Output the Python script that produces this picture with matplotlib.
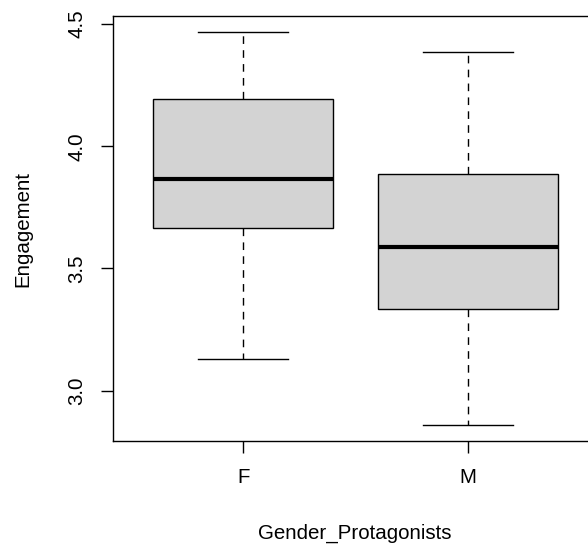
import matplotlib
matplotlib.use("Agg")
import matplotlib.pyplot as plt

plt.rcParams['font.family'] = ['Liberation Sans', 'DejaVu Sans']

# five-number summaries per group
groups = ['F', 'M']
whis_lo = [3.130, 2.858]
q1 = [3.665, 3.334]
medians = [3.865, 3.589]
q3 = [4.193, 3.885]
whis_hi = [4.469, 4.388]

yticks = [3.0, 3.5, 4.0, 4.5]

stats = []
for i, g in enumerate(groups):
    stats.append(dict(label=g, whislo=whis_lo[i], q1=q1[i], med=medians[i],
                      q3=q3[i], whishi=whis_hi[i], fliers=[]))

fig = plt.figure(figsize=(5.88, 5.45), dpi=100)
ax = fig.add_axes([112.7 / 588, 104 / 545, 486 / 588, 425 / 545])

ax.bxp(stats, positions=[1, 2], widths=0.8, patch_artist=True,
       showfliers=False,
       boxprops=dict(facecolor='#d3d3d3', edgecolor='black', linewidth=1.0),
       medianprops=dict(color='black', linewidth=3.0, solid_capstyle='butt'),
       whiskerprops=dict(color='black', linewidth=1.0, linestyle=(0, (5.5, 4.5))),
       capprops=dict(color='black', linewidth=1.0),
       capwidths=0.4)

# R-style 4% padding around the data range
lo = min(whis_lo)
hi = max(whis_hi)
pad = (hi - lo) * 0.04
ax.set_ylim(lo - pad, hi + pad)
ax.set_xlim(0.42, 2.58)

ax.set_yticks(yticks)
ax.set_yticklabels([f'{t:.1f}' for t in yticks], rotation=90, va='center')
ax.set_xticks([1, 2])
ax.set_xticklabels(groups)
ax.tick_params(axis='both', direction='out', length=8.6, width=1.0,
               labelsize=14.8, color='black')
ax.tick_params(axis='y', pad=10.4)
ax.tick_params(axis='x', pad=10.8)

for s in ax.spines.values():
    s.set_linewidth(1.0)
    s.set_color('black')

fig.text(355 / 588, 12 / 545, 'Gender_Protagonists', ha='center', va='center',
         fontsize=14.8)
fig.text(23 / 588, 316 / 545, 'Engagement', ha='center', va='center',
         rotation=90, fontsize=14.8)

fig.savefig('out.png', dpi=100)
